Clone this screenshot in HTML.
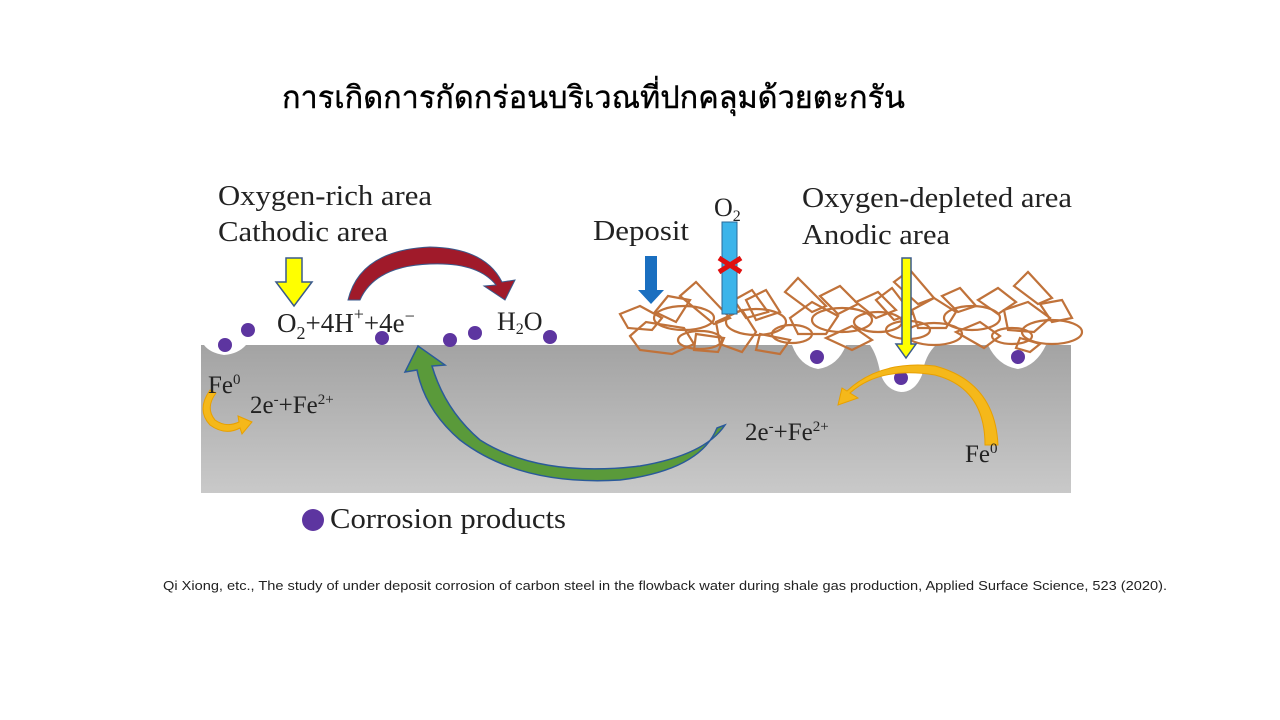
<!DOCTYPE html>
<html><head><meta charset="utf-8"><style>
html,body{margin:0;padding:0;background:#fff;width:1280px;height:720px;overflow:hidden}
svg{display:block}
</style></head><body>
<svg width="1280" height="720" viewBox="0 0 1280 720" xmlns="http://www.w3.org/2000/svg">
<defs>
<linearGradient id="g" x1="0" y1="0" x2="0" y2="1"><stop offset="0" stop-color="#a3a3a3"/><stop offset="1" stop-color="#c9c9c9"/></linearGradient>
</defs>
<text x="282" y="108" font-family="'Liberation Sans','DejaVu Sans',sans-serif" font-size="31" fill="#000" stroke="#000" stroke-width="0.4" textLength="623" lengthAdjust="spacingAndGlyphs">การเกิดการกัดกร่อนบริเวณที่ปกคลุมด้วยตะกรัน</text>

<rect x="201" y="345" width="870" height="148" fill="url(#g)"/>
<!-- pits -->
<path d="M204,345 L246,345 Q238,354 224,355 Q210,353 204,345Z" fill="#fff"/>
<path d="M792,345 L846,345 Q838,366 818,369 Q800,366 792,345Z" fill="#fff"/>
<path d="M870,345 L936,345 Q925,355 922,375 Q915,392 901,392 Q885,390 880,372 Q877,355 870,345Z" fill="#fff"/>
<path d="M988,345 L1046,345 Q1036,366 1018,369 Q998,366 988,345Z" fill="#fff"/>

<!-- deposit -->
<g fill="none" stroke="#c0723a" stroke-width="2.2">
<polygon points="620,314 640,306 662,318 652,330 628,328"/>
<polygon points="630,336 646,322 684,328 694,344 672,354 640,350"/>
<polygon points="655,312 668,296 690,300 676,322"/>
<polygon points="680,296 696,282 730,318 714,324"/>
<ellipse cx="684" cy="318" rx="30" ry="12"/>
<ellipse cx="700" cy="340" rx="22" ry="9"/>
<polygon points="716,322 742,310 756,332 742,352 720,344"/>
<polygon points="746,300 766,290 780,312 756,320"/>
<ellipse cx="756" cy="322" rx="30" ry="13"/>
<polygon points="760,334 790,340 780,354 756,350"/>
<polygon points="734,300 752,290 768,312 746,318"/>
<polygon points="785,292 798,278 826,306 812,312"/>
<polygon points="790,318 812,302 838,316 826,334 798,334"/>
<ellipse cx="792" cy="334" rx="20" ry="9"/>
<polygon points="820,296 840,286 858,304 838,314"/>
<ellipse cx="842" cy="320" rx="30" ry="12"/>
<polygon points="826,338 852,326 872,340 852,350"/>
<polygon points="856,302 878,292 896,310 876,318"/>
<ellipse cx="878" cy="322" rx="24" ry="10"/>
<polygon points="876,300 892,288 912,314 894,320"/>
<polygon points="894,282 910,270 934,298 918,304"/>
<ellipse cx="908" cy="330" rx="22" ry="9"/>
<polygon points="912,310 934,298 956,312 946,328 918,328"/>
<ellipse cx="934" cy="334" rx="28" ry="11"/>
<polygon points="942,296 960,288 976,306 958,312"/>
<ellipse cx="972" cy="318" rx="28" ry="12"/>
<polygon points="956,332 980,322 1000,336 984,348"/>
<polygon points="978,300 998,288 1016,302 998,314"/>
<polygon points="1014,286 1028,272 1052,298 1038,304"/>
<polygon points="1004,310 1028,302 1050,318 1034,332 1008,330"/>
<ellipse cx="1012" cy="336" rx="20" ry="8"/>
<ellipse cx="1052" cy="332" rx="30" ry="12"/>
<polygon points="1040,304 1062,300 1072,318 1052,322"/>
<polygon points="1020,338 1040,344 1030,352 1016,348"/>
<polygon points="696,334 724,338 718,352 694,350"/>
</g>

<!-- surface dots -->
<g fill="#5d35a0">
<circle cx="225" cy="345" r="7"/><circle cx="248" cy="330" r="7"/><circle cx="382" cy="338" r="7"/>
<circle cx="450" cy="340" r="7"/><circle cx="475" cy="333" r="7"/><circle cx="550" cy="337" r="7"/>
<circle cx="817" cy="357" r="7"/><circle cx="901" cy="378" r="7"/><circle cx="1018" cy="357" r="7"/>
<circle cx="313" cy="520" r="11"/>
</g>

<!-- yellow down arrow left -->
<path d="M286,258 L302,258 L302,282 L312,282 L294,306 L276,282 L286,282Z" fill="#ffff00" stroke="#3a5a8c" stroke-width="1.5"/>
<!-- red arc -->
<path d="M348,300 Q360,250 430,247 Q485,248 502,282 L515,280 L505,300 L484,286 L496,285 Q478,262 430,264 Q375,266 360,300Z" fill="#a01a2a" stroke="#3a5a8c" stroke-width="1"/>
<!-- blue deposit arrow -->
<path d="M645,256 L657,256 L657,290 L664,290 L651,304 L638,290 L645,290Z" fill="#1a6fc0"/>
<!-- O2 bar -->
<rect x="722" y="222" width="15" height="92" fill="#3cb4ea" stroke="#2a6a9a" stroke-width="1"/>
<path d="M719,258 L741,272 M741,258 L719,272" stroke="#e01010" stroke-width="5"/>
<!-- yellow vertical arrow -->
<path d="M902,258 L911,258 L911,344 L916,344 L906,358 L896,344 L902,344Z" fill="#ffff00" stroke="#3a5a8c" stroke-width="1.5"/>

<!-- green arrow -->
<path d="M717,428 Q700,470 620,480 Q520,486 460,440 Q425,410 417,370 L405,372 L418,346 L445,365 L432,366 Q445,410 480,440 Q540,478 640,466 Q705,455 725,425Z" fill="#5a9a3a" stroke="#2a5a9a" stroke-width="1.5"/>

<!-- orange arcs -->
<path d="M985,445 Q985,388 935,375 Q880,366 850,393 L858,398 L838,405 L842,388 L847,391 Q880,360 935,366 Q995,382 998,445Z" fill="#f5b81a" stroke="#e8a000" stroke-width="1"/>
<path d="M210,390 Q196,410 210,425 Q225,436 240,428 L242,434 L252,422 L238,416 L239,422 Q226,428 215,420 Q205,408 216,393Z" fill="#f5b81a" stroke="#e8a000" stroke-width="1"/>

<g font-family="'Liberation Serif',serif" fill="#222">
<text x="218" y="205" font-size="29" textLength="214" lengthAdjust="spacingAndGlyphs">Oxygen-rich area</text>
<text x="218" y="241" font-size="29" textLength="170" lengthAdjust="spacingAndGlyphs">Cathodic area</text>
<text x="277" y="332" font-size="27">O<tspan font-size="18" dy="7">2</tspan><tspan dy="-7">+4H</tspan><tspan font-size="18" dy="-12">+</tspan><tspan dy="12">+4e</tspan><tspan font-size="18" dy="-10">−</tspan></text>
<text x="497" y="330" font-size="26">H<tspan font-size="16" dy="4">2</tspan><tspan dy="-4">O</tspan></text>
<text x="593" y="240" font-size="28" textLength="96" lengthAdjust="spacingAndGlyphs">Deposit</text>
<text x="714" y="216" font-size="26">O<tspan font-size="16" dy="5">2</tspan></text>
<text x="802" y="207" font-size="29" textLength="270" lengthAdjust="spacingAndGlyphs">Oxygen-depleted area</text>
<text x="802" y="244" font-size="29" textLength="148" lengthAdjust="spacingAndGlyphs">Anodic area</text>
<text x="208" y="393" font-size="25">Fe<tspan font-size="15" dy="-9">0</tspan></text>
<text x="250" y="413" font-size="25">2e<tspan font-size="15" dy="-9">-</tspan><tspan dy="9">+Fe</tspan><tspan font-size="15" dy="-9">2+</tspan></text>
<text x="745" y="440" font-size="25">2e<tspan font-size="15" dy="-9">-</tspan><tspan dy="9">+Fe</tspan><tspan font-size="15" dy="-9">2+</tspan></text>
<text x="965" y="462" font-size="25">Fe<tspan font-size="15" dy="-9">0</tspan></text>
<text x="330" y="528" font-size="28" textLength="236" lengthAdjust="spacingAndGlyphs">Corrosion products</text>
</g>
<text x="163" y="590" font-family="'Liberation Sans',sans-serif" font-size="13" fill="#222" textLength="1004" lengthAdjust="spacingAndGlyphs">Qi Xiong, etc., The study of under deposit corrosion of carbon steel in the flowback water during shale gas production, Applied Surface Science, 523 (2020).</text>
</svg>
</body></html>
